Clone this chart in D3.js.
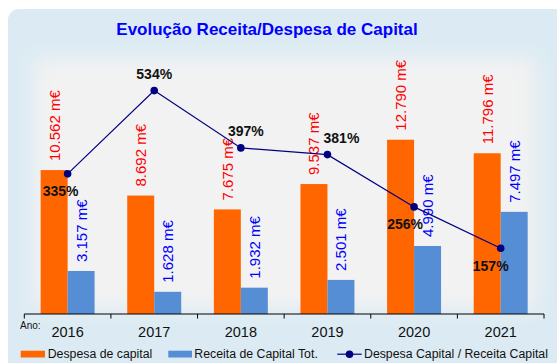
<!DOCTYPE html>
<html>
<head>
<meta charset="utf-8">
<script src="https://cdn.jsdelivr.net/npm/d3@7"></script>
<style>
  html, body { margin: 0; padding: 0; background: #ffffff; }
  svg { display: block; font-family: "Liberation Sans", Arial, sans-serif; }
</style>
</head>
<body>
<svg id="chart" width="557" height="363"></svg>
<script>
// Capital expenditure vs capital revenue (thousand euros) and their ratio
const years = ["2016", "2017", "2018", "2019", "2020", "2021"];
const despesaCapital = [10562, 8692, 7675, 9537, 12790, 11796];
const receitaCapital = [3157, 1628, 1932, 2501, 4990, 7497];
const racioPercent = [335, 534, 397, 381, 256, 157];

// where each ratio label sits relative to its point
const ratioLabelSide = ["below", "above", "above", "above", "below", "below"];
const ratioLabelShift = [-7, 0, 5, 14, -9, -10];

const fmtMil = v => d3.format(",")(v).replace(/,/g, ".") + " m€";

const svg = d3.select("#chart");

const defs = svg.append("defs");
defs.append("filter").attr("id", "soft")
  .attr("x", "-20%").attr("y", "-20%").attr("width", "140%").attr("height", "140%")
  .append("feGaussianBlur").attr("stdDeviation", 9);

// outer panel and soft grey plot background
svg.append("rect")
  .attr("x", 8).attr("y", 9).attr("width", 560).attr("height", 370)
  .attr("rx", 11).attr("fill", "#dcebf3");
svg.append("rect")
  .attr("x", 34).attr("y", 58).attr("width", 502).attr("height", 250)
  .attr("fill", "#f2f2f2").attr("filter", "url(#soft)");

// title
svg.append("text")
  .attr("x", 267).attr("y", 35)
  .attr("text-anchor", "middle")
  .attr("font-size", 17).attr("font-weight", "bold")
  .attr("fill", "#0000ff")
  .text("Evolução Receita/Despesa de Capital");

const x0 = d3.scaleBand().domain(years).range([24.3, 544]).padding(0);
const x1 = d3.scaleBand().domain(["despesa", "receita"])
  .range([0, x0.bandwidth()]).paddingInner(0).paddingOuter(0.605);
const yBar = d3.scaleLinear().domain([0, 18420]).range([314, 63]);
const yPct = d3.scaleLinear().domain([0, 600]).range([314, 63]);

const rows = years.map((y, i) => ({
  year: y, despesa: despesaCapital[i], receita: receitaCapital[i],
  pct: racioPercent[i], side: ratioLabelSide[i], shift: ratioLabelShift[i]
}));

const colors = { despesa: "#ff6600", receita: "#558ed5" };
const labelColors = { despesa: "#ff0000", receita: "#0000ff" };

const groups = svg.append("g").selectAll("g").data(rows).join("g")
  .attr("transform", d => `translate(${x0(d.year)},0)`);

["despesa", "receita"].forEach(key => {
  groups.append("rect")
    .attr("x", x1(key)).attr("width", x1.bandwidth())
    .attr("y", d => yBar(d[key]))
    .attr("height", d => yBar(0) - yBar(d[key]))
    .attr("fill", colors[key]);
  groups.append("text")
    .attr("transform", d => `translate(${x1(key) + x1.bandwidth() / 2 + 5.5},${yBar(d[key]) - 9}) rotate(-90)`)
    .attr("font-size", 15)
    .attr("fill", labelColors[key])
    .text(d => fmtMil(d[key]));
});

// ratio line
const cx = d => x0(d.year) + x0.bandwidth() / 2;
svg.append("path")
  .datum(rows)
  .attr("fill", "none").attr("stroke", "#000080").attr("stroke-width", 1.2)
  .attr("d", d3.line().x(cx).y(d => yPct(d.pct)));
svg.append("g").selectAll("circle").data(rows).join("circle")
  .attr("cx", cx).attr("cy", d => yPct(d.pct)).attr("r", 3.8)
  .attr("fill", "#000080");
svg.append("g").selectAll("text").data(rows).join("text")
  .attr("x", d => cx(d) + d.shift)
  .attr("y", d => yPct(d.pct) + (d.side === "above" ? -11.5 : 22.5))
  .attr("text-anchor", "middle")
  .attr("font-size", 14).attr("font-weight", "bold")
  .attr("fill", "#111111")
  .text(d => d.pct + "%");

// category axis
const axis = svg.append("g").attr("transform", "translate(0,314)")
  .call(d3.axisBottom(x0).tickSize(0).tickPadding(0));
axis.select(".domain").attr("stroke", "#000").attr("d", "M24.3,0H544");
axis.selectAll(".tick text").attr("font-size", 14.5).attr("fill", "#111")
  .attr("font-family", "Liberation Sans, Arial, sans-serif")
  .attr("dy", 0).attr("y", 22.7);
const bounds = years.map(y => x0(y)).concat([x0.range()[1]]);
axis.selectAll("line.sep").data(bounds).join("line")
  .attr("class", "sep")
  .attr("x1", d => d).attr("x2", d => d)
  .attr("y1", 0).attr("y2", 4.5).attr("stroke", "#000");

svg.append("text")
  .attr("x", 20).attr("y", 329).attr("font-size", 10).attr("fill", "#111")
  .text("Ano:");

// legend
const legend = svg.append("g").attr("font-size", 12.3).attr("fill", "#111");
legend.append("rect").attr("x", 20.7).attr("y", 350.7).attr("width", 24.3).attr("height", 6.8).attr("fill", colors.despesa);
legend.append("text").attr("x", 47.7).attr("y", 358.2).text("Despesa de capital");
legend.append("rect").attr("x", 168.3).attr("y", 350.7).attr("width", 23.7).attr("height", 6.8).attr("fill", colors.receita);
legend.append("text").attr("x", 194.3).attr("y", 358.2).text("Receita de Capital Tot.");
legend.append("line").attr("x1", 337.3).attr("x2", 361.7).attr("y1", 354.2).attr("y2", 354.2)
  .attr("stroke", "#000080").attr("stroke-width", 1.2);
legend.append("circle").attr("cx", 349.5).attr("cy", 354.2).attr("r", 3.8).attr("fill", "#000080");
legend.append("text").attr("x", 364).attr("y", 358.2).text("Despesa Capital / Receita Capital");
</script>
</body>
</html>
